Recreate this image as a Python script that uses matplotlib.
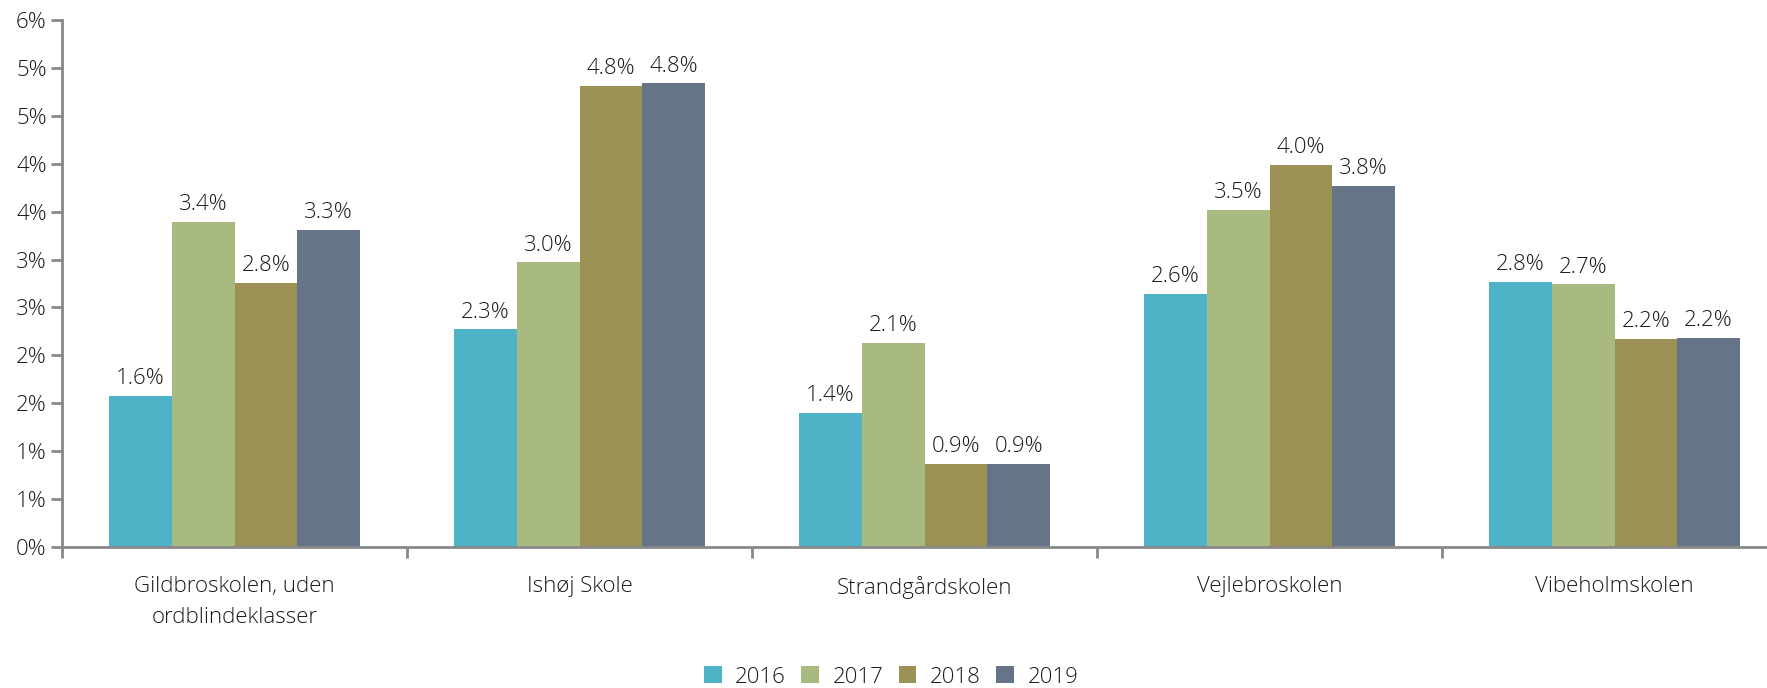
import numpy as np
import matplotlib
matplotlib.use("Agg")
import matplotlib.pyplot as plt
from matplotlib.ticker import FuncFormatter

plt.rcParams['font.family'] = ['Open Sans', 'DejaVu Sans']
plt.rcParams['font.weight'] = 'light'

schools = ["Gildbroskolen, uden\nordblindeklasser", "Ishøj Skole", "Strandgårdskolen",
           "Vejlebroskolen", "Vibeholmskolen"]
years = ["2016", "2017", "2018", "2019"]
v2016 = [1.58, 2.27, 1.40, 2.64, 2.77]
v2017 = [3.39, 2.97, 2.13, 3.52, 2.74]
v2018 = [2.76, 4.81, 0.87, 3.99, 2.17]
v2019 = [3.31, 4.84, 0.87, 3.77, 2.18]
series = [v2016, v2017, v2018, v2019]
colors = ["#4FB3C8", "#A8BA7F", "#9B9155", "#657587"]
fs = 16
tc = "#1A1A1A"

fig = plt.figure(figsize=(17.67, 6.88), dpi=100)
ax = fig.add_axes([62/1767, 1 - 547/688, 1725/1767, 527/688])

bw = 1 / 5.5
x = np.arange(len(schools))
for i, (vals, c) in enumerate(zip(series, colors)):
    pos = x + (i - 1.5) * bw
    ax.bar(pos, vals, width=bw, color=c, label=years[i], zorder=2)
    for p, v in zip(pos, vals):
        ax.text(p, v + 0.07, f"{v:.1f}%", ha="center", va="bottom",
                fontsize=fs, color=tc)

ax.set_xlim(-0.5, len(schools) - 0.5)
ax.set_ylim(0, 5.5)
ax.set_yticks(np.arange(0, 5.51, 0.5))
ax.yaxis.set_major_formatter(FuncFormatter(lambda v, p: f"{int(v + 0.5)}%"))
ax.set_xticks(x)
ax.set_xticklabels(schools, fontsize=fs, color=tc, linespacing=1.6)
ax.set_xticks(np.arange(-0.5, len(schools), 1), minor=True)
ax.tick_params(axis="x", which="major", length=0, pad=21)
ax.tick_params(axis="x", which="minor", length=8, width=2, color="#898989", direction="out")
ax.tick_params(axis="y", length=8, width=2, color="#898989", labelsize=fs,
               labelcolor=tc, pad=3)

for s in ["top", "right"]:
    ax.spines[s].set_visible(False)
for s in ["left", "bottom"]:
    ax.spines[s].set_color("#898989")
    ax.spines[s].set_linewidth(2)
ax.spines["bottom"].set_zorder(3)

fig.legend(loc="center", bbox_to_anchor=(891/1767, 1 - 677/688), ncol=4, frameon=False,
           fontsize=fs, handlelength=0.8, handleheight=0.8, handletextpad=0.6,
           columnspacing=0.7, labelcolor=tc)

fig.savefig("out.png", dpi=100)
